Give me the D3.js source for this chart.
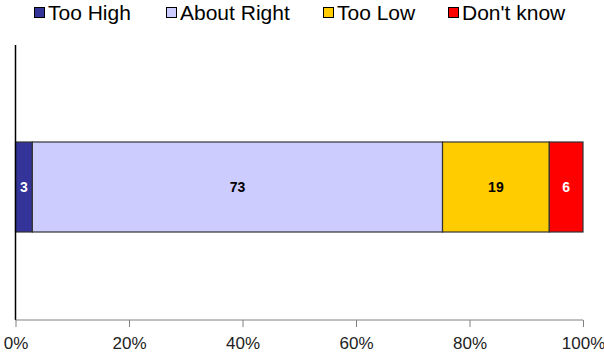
<!DOCTYPE html>
<html>
<head>
<meta charset="utf-8">
<script src="https://cdn.jsdelivr.net/npm/d3@7"></script>
<style>
  html, body { margin: 0; padding: 0; background: #fff; }
  svg { display: block; }
</style>
</head>
<body>
<svg id="chart" width="604" height="361"></svg>
<script>
// Survey response shares, one stacked bar
const categories = ["Too High", "About Right", "Too Low", "Don't know"];
const values = [3, 73, 19, 6];
const colors = ["#333399", "#CCCCFF", "#FFCC00", "#FF0000"];
const labelColors = ["#ffffff", "#000000", "#000000", "#ffffff"];
const tickValues = [0, 0.2, 0.4, 0.6, 0.8, 1.0];

const svg = d3.select("#chart");
const font = "Arial, 'Liberation Sans', sans-serif";

const plot = { left: 15.5, right: 583, top: 45, bottom: 320 };
const total = d3.sum(values);

const x = d3.scaleLinear().domain([0, 1]).range([plot.left, plot.right]);
const y = d3.scaleBand().domain(["row"]).range([52, plot.bottom + 2]).paddingInner(0).paddingOuter(1);

// cumulative shares
let acc = 0;
const segs = values.map((v, i) => {
  const s = { cat: categories[i], v, x0: acc / total, x1: (acc + v) / total, i };
  acc += v;
  return s;
});

// bar segments
svg.append("g").selectAll("rect").data(segs).join("rect")
  .attr("x", d => x(d.x0))
  .attr("y", y("row"))
  .attr("width", d => x(d.x1) - x(d.x0))
  .attr("height", y.bandwidth())
  .attr("fill", d => colors[d.i])
  .attr("stroke", "#333333")
  .attr("stroke-width", 1.2);

// value labels
svg.append("g").selectAll("text").data(segs).join("text")
  .attr("x", d => (x(d.x0) + x(d.x1)) / 2)
  .attr("y", y("row") + y.bandwidth() / 2)
  .attr("dy", "0.36em")
  .attr("text-anchor", "middle")
  .attr("font-family", font)
  .attr("font-size", 14)
  .attr("font-weight", "bold")
  .attr("fill", d => labelColors[d.i])
  .text(d => d.v);

// category axis line (left)
svg.append("line")
  .attr("x1", plot.left).attr("x2", plot.left)
  .attr("y1", plot.top).attr("y2", plot.bottom)
  .attr("stroke", "#000").attr("stroke-width", 1.5);

// value axis
const xAxis = d3.axisBottom(x)
  .tickValues(tickValues)
  .tickFormat(d3.format(".0%"))
  .tickSize(7)
  .tickPadding(10);

const gx = svg.append("g")
  .attr("transform", `translate(0,${plot.bottom})`)
  .call(xAxis);
gx.select(".domain").attr("stroke", "#808080").attr("d", `M${plot.left},0H${plot.right}`);
gx.selectAll(".tick line").attr("stroke", "#808080");
gx.selectAll(".tick text")
  .attr("font-family", font)
  .attr("font-size", 17)
  .attr("fill", "#222");

// legend
const legendX = [34, 166, 323, 448];
const lg = svg.append("g").selectAll("g").data(categories).join("g")
  .attr("transform", (d, i) => `translate(${legendX[i]},0)`);
lg.append("rect")
  .attr("x", 0.5).attr("y", 7.5)
  .attr("width", 10).attr("height", 10)
  .attr("fill", (d, i) => colors[i])
  .attr("stroke", "#000").attr("stroke-width", 1);
lg.append("text")
  .attr("x", 14).attr("y", 20)
  .attr("font-family", font)
  .attr("font-size", 21)
  .attr("fill", "#000")
  .text(d => d);
</script>
</body>
</html>
